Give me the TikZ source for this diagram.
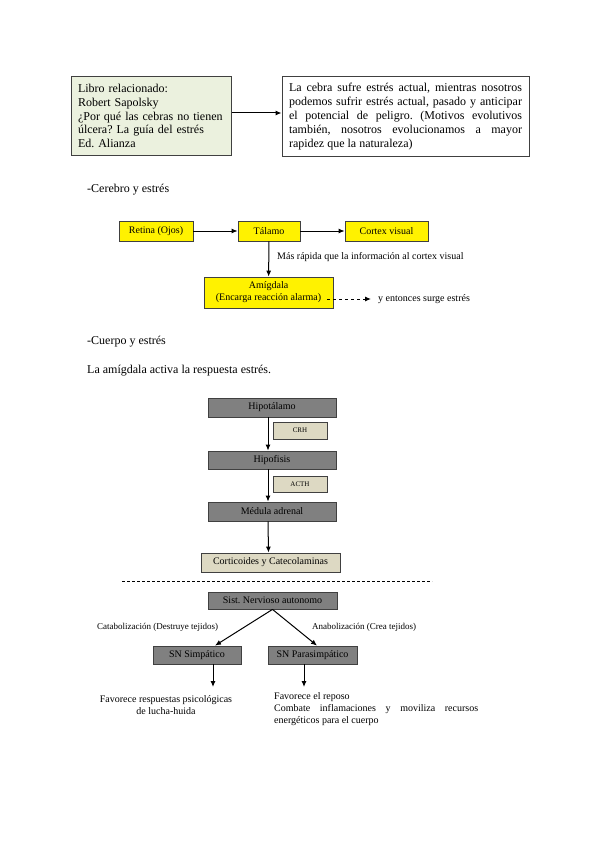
\documentclass[tikz,border=0pt]{standalone}
\usepackage{fontspec}
\setmainfont{Liberation Serif}
\usepackage{tikz}
\usetikzlibrary{calc,arrows.meta}
\definecolor{libro}{RGB}{235,241,222}
\definecolor{grisbox}{RGB}{128,128,128}
\definecolor{beige}{RGB}{221,217,195}
\definecolor{borde}{RGB}{64,64,64}
\newcommand{\doce}{\fontsize{12}{13.8}\selectfont}
\newcommand{\diez}{\fontsize{10}{12}\selectfont}
\frenchspacing
\tikzset{
  topbox/.style={draw=borde,line width=1pt,inner sep=7pt,font=\doce},
  yellowbox/.style={draw=borde,fill=yellow,line width=0.8pt,inner sep=0pt,font=\diez,align=center},
  graybox/.style={draw=borde,fill=grisbox,line width=0.8pt,inner sep=0pt,minimum width=128pt,font=\diez},
  tagbox/.style={draw=borde,fill=beige,line width=0.6pt,inner sep=0pt,minimum width=54pt,font=\fontsize{7}{8}\selectfont},
  flecha/.style={-{Latex[length=6pt,width=5pt]},line width=1pt},
  rotulo/.style={font=\fontsize{9}{11}\selectfont,anchor=west,inner sep=0pt}
}

\begin{document}
\begin{tikzpicture}[x=1pt,y=-1pt]
\useasboundingbox[fill=white] (0,0) rectangle (599,848);
% libro y comentario
\node[topbox,fill=libro,text width=146pt,minimum height=78pt,align=left] (libro) at (151,116)
  {Libro relacionado:\\Robert Sapolsky\\¿Por qué las cebras no tienen úlcera? La guía del estrés\\Ed. Alianza};
\node[topbox,text width=233pt,minimum height=79pt,align=justify] (cebra) at (405.5,116.5)
  {La cebra sufre estrés actual, mientras nosotros\linebreak podemos sufrir estrés actual, pasado y anticipar\linebreak el potencial de peligro. (Motivos evolutivos\linebreak también, nosotros evolucionamos a mayor\linebreak rapidez que la naturaleza)};
\draw[flecha] ([yshift=3pt]libro.east) -- ([yshift=3.5pt]cebra.west);
% cerebro
\node[anchor=west,inner sep=0pt,font=\doce] (cerebro) at (87,190) {-Cerebro y estrés};
\node[yellowbox,minimum width=74pt,minimum height=20pt] (retina) at (156,231) {Retina (Ojos)};
\node[yellowbox,minimum width=62pt,minimum height=20pt] (talamo) at (269,231) {Tálamo};
\node[yellowbox,minimum width=83pt,minimum height=20pt] (cortex) at (386.5,231) {Cortex visual};
\node[yellowbox,minimum width=129pt,minimum height=31pt] (amigdala) at (268.5,292.5) {Amígdala\\(Encarga reacción alarma)};
\draw[flecha] (retina) -- (talamo);
\draw[flecha] (talamo) -- (cortex);
\draw[flecha] (talamo) -- (amigdala);
\node[anchor=west,inner sep=0pt,font=\diez] (rapida) at (277,257) {Más rápida que la información al cortex visual};
\node[anchor=west,inner sep=0pt,font=\diez] (surge) at (378,299) {y entonces surge estrés};
\draw[flecha,dashed] ([yshift=-6.5pt,xshift=-6pt]amigdala.east) -- ([xshift=-7pt]surge.west);
% cuerpo
\node[anchor=west,inner sep=0pt,font=\doce] (cuerpo) at (87,342) {-Cuerpo y estrés};
\node[anchor=west,inner sep=0pt,font=\doce] (activa) at (87,371) {La amígdala activa la respuesta estrés.};
\node[graybox,minimum height=19pt] (hipot) at (272,407.5) {Hipotálamo};
\node[tagbox,minimum height=17pt] (crh) at (300,430.5) {CRH};
\node[graybox,minimum height=18pt] (hipof) at (272,460) {Hipofisis};
\node[tagbox,minimum height=16pt] (acth) at (300,484) {ACTH};
\node[graybox,minimum height=19pt] (medula) at (272,511.5) {Médula adrenal};
\node[draw=borde,fill=beige,line width=0.8pt,inner sep=0pt,minimum width=139pt,minimum height=19pt,font=\diez] (cortic) at (270.5,562.5) {Corticoides y Catecolaminas};
\draw[flecha] ([xshift=-4pt]hipot.south) -- ([xshift=-4pt]hipof.north);
\draw[flecha] ([xshift=-4pt]hipof.south) -- ([xshift=-4pt]medula.north);
\draw[flecha] ([xshift=-4pt]medula.south) -- ([xshift=-2pt]cortic.north);
\coordinate (corteA) at (122,581);
\coordinate (corteB) at (432,581);
\draw[dashed,line width=0.6pt,dash pattern=on 3pt off 2pt] (corteA) -- (corteB);
% sistema nervioso
\node[graybox,minimum width=129pt,minimum height=17pt] (sna) at (272.5,600.5) {Sist. Nervioso autonomo};
\node[graybox,minimum width=88pt,minimum height=18pt] (sns) at (197,655) {SN Simpático};
\node[graybox,minimum width=89pt,minimum height=18pt] (snp) at (312.5,655) {SN Parasimpático};
\draw[flecha] (sna.south) -- ([xshift=18pt]sns.north);
\draw[flecha] (sna.south) -- ([xshift=4.5pt]snp.north);
\node[rotulo] (catab) at (97,627) {Catabolización (Destruye tejidos)};
\node[rotulo] (anab) at (312,627) {Anabolización (Crea tejidos)};
\coordinate (finS) at (213,687);
\coordinate (finP) at (304,687);
\draw[flecha] (sns.south -| finS) -- (finS);
\draw[flecha] (snp.south -| finP) -- (finP);
\node[font=\diez,align=center,inner sep=0pt] (lucha) at (166,705) {Favorece respuestas psicológicas\\de lucha-huida};
\node[font=\diez,align=justify,text width=204pt,inner sep=0pt,anchor=north west] (reposo) at (274,692)
  {Favorece el reposo\\Combate inflamaciones y moviliza recursos\linebreak energéticos para el cuerpo};
\end{tikzpicture}
\end{document}
